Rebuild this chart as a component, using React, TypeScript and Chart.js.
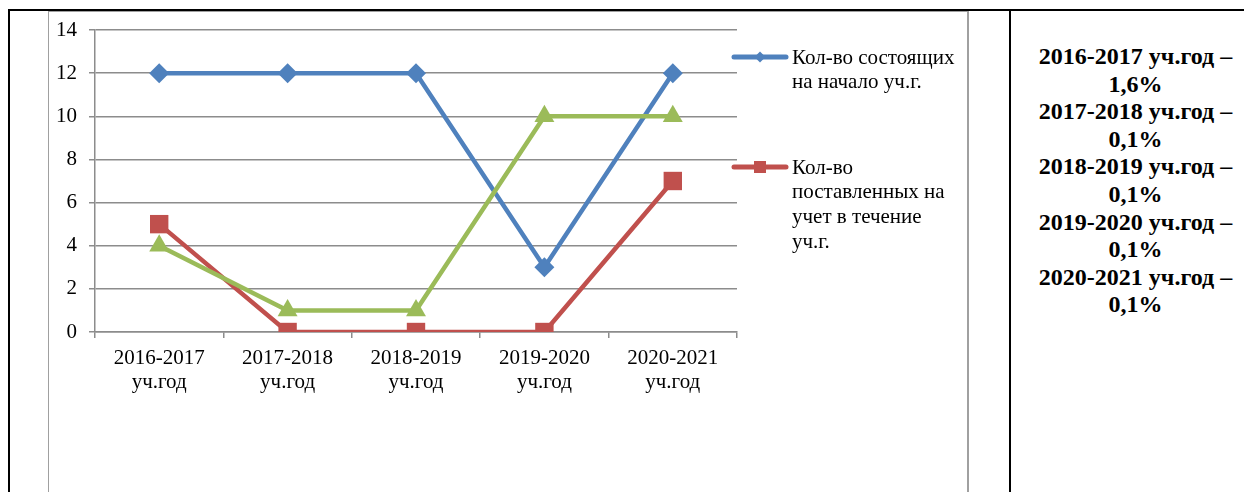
import React, { useEffect, useRef } from 'react';
import { Chart, registerables } from 'chart.js';

Chart.register(...registerables);

const categories: string[][] = [
  ['2016-2017', 'уч.год'],
  ['2017-2018', 'уч.год'],
  ['2018-2019', 'уч.год'],
  ['2019-2020', 'уч.год'],
  ['2020-2021', 'уч.год'],
];
const enrolledAtStart = [12, 12, 12, 3, 12];
const registeredDuring = [5, 0, 0, 0, 7];
const thirdSeries = [4, 1, 1, 10, 10];
const yMin = 0;
const yMax = 14;
const yStep = 2;
const legendTexts: string[][] = [
  ['Кол-во состоящих', 'на начало уч.г.'],
  ['Кол-во', 'поставленных на', 'учет в течение', 'уч.г.'],
];
const notes: string[][] = [
  ['2016-2017 уч.год –', '1,6%'],
  ['2017-2018 уч.год –', '0,1%'],
  ['2018-2019 уч.год –', '0,1%'],
  ['2019-2020 уч.год –', '0,1%'],
  ['2020-2021 уч.год –', '0,1%'],
];

const BLUE = '#4F81BD';
const RED = '#C0504D';
const GREEN = '#9BBB59';
const GRID = '#8c8c8c';
const FONT = "'Liberation Serif', 'Times New Roman', serif";

const CANVAS_LEFT = 49;
const CANVAS_TOP = 10;
const CANVAS_W = 919;
const CANVAS_H = 482;

const legendPlugin = {
  id: 'wordLegend',
  afterDraw(chart: any) {
    const ctx: CanvasRenderingContext2D = chart.ctx;
    const items = [
      { color: BLUE, y: 47, shape: 'diamond', lines: legendTexts[0] },
      { color: RED, y: 157, shape: 'square', lines: legendTexts[1] },
    ];
    ctx.save();
    items.forEach((it) => {
      ctx.strokeStyle = it.color;
      ctx.fillStyle = it.color;
      ctx.lineWidth = 5;
      ctx.lineCap = 'round';
      ctx.beginPath();
      ctx.moveTo(685, it.y);
      ctx.lineTo(737, it.y);
      ctx.stroke();
      const cx = 711;
      ctx.beginPath();
      if (it.shape === 'diamond') {
        const r = 5.5;
        ctx.moveTo(cx - r, it.y);
        ctx.lineTo(cx, it.y - r);
        ctx.lineTo(cx + r, it.y);
        ctx.lineTo(cx, it.y + r);
        ctx.closePath();
      } else {
        ctx.rect(cx - 6, it.y - 6, 12, 12);
      }
      ctx.fill();
      ctx.fillStyle = '#000';
      ctx.font = `21px ${FONT}`;
      ctx.textBaseline = 'middle';
      ctx.textAlign = 'left';
      it.lines.forEach((t, i) => {
        ctx.fillText(t, 743, it.y + 1 + i * 24.7);
      });
    });
    ctx.restore();
  },
};

export default function App() {
  const ref = useRef<HTMLCanvasElement | null>(null);

  useEffect(() => {
    if (!ref.current) return;
    const chart = new Chart(ref.current, {
      type: 'line',
      data: {
        labels: categories,
        datasets: [
          {
            label: legendTexts[0].join(' '),
            data: enrolledAtStart,
            borderColor: BLUE,
            backgroundColor: BLUE,
            borderWidth: 4.5,
            pointStyle: 'rectRot',
            pointRadius: 10,
            pointBorderWidth: 0,
            pointBackgroundColor: BLUE,
            tension: 0,
            order: 2,
          },
          {
            label: legendTexts[1].join(' '),
            data: registeredDuring,
            borderColor: RED,
            backgroundColor: RED,
            borderWidth: 4.5,
            pointStyle: 'rect',
            pointRadius: 13,
            pointBorderWidth: 0,
            pointBackgroundColor: RED,
            tension: 0,
            order: 1,
          },
          {
            label: 'series3',
            data: thirdSeries,
            borderColor: GREEN,
            backgroundColor: GREEN,
            borderWidth: 4.5,
            pointStyle: 'triangle',
            pointRadius: 11.5,
            pointBorderWidth: 0,
            pointBackgroundColor: GREEN,
            tension: 0,
            order: 0,
          },
        ],
      },
      options: {
        animation: false,
        responsive: false,
        maintainAspectRatio: false,
        devicePixelRatio: 1,
        layout: { padding: { left: 0, top: 20, right: 231, bottom: 0 } },
        plugins: {
          legend: { display: false },
          tooltip: { enabled: false },
        },
        scales: {
          x: {
            type: 'category',
            offset: true,
            grid: {
              offset: true,
              drawOnChartArea: false,
              drawTicks: true,
              tickLength: 6,
              color: GRID,
              lineWidth: 1.5,
            },
            border: { display: true, color: GRID, width: 1.5 },
            ticks: {
              color: '#000',
              font: { family: FONT, size: 21, lineHeight: 1.17 },
              padding: 8,
              maxRotation: 0,
              autoSkip: false,
            },
            afterFit: (scale: any) => {
              scale.height = 160;
              scale.paddingLeft = 0;
              scale.paddingRight = 0;
            },
          },
          y: {
            min: yMin,
            max: yMax,
            grid: {
              drawTicks: true,
              tickLength: 6,
              color: GRID,
              lineWidth: 1.5,
            },
            border: { display: true, color: GRID, width: 1.5 },
            ticks: {
              stepSize: yStep,
              color: '#000',
              font: { family: FONT, size: 21 },
              padding: 12,
            },
            afterFit: (scale: any) => {
              scale.width = 46;
              scale.paddingTop = 0;
              scale.paddingBottom = 0;
            },
          },
        },
      },
      plugins: [legendPlugin],
    } as any);
    return () => chart.destroy();
  }, []);

  return (
    <div
      style={{
        position: 'fixed',
        left: 0,
        top: 0,
        width: 1244,
        height: 492,
        overflow: 'hidden',
        background: '#fff',
      }}
    >
      <div style={{ position: 'absolute', left: 8, top: 9, width: 1236, height: 2, background: '#000' }} />
      <div style={{ position: 'absolute', left: 8, top: 9, width: 2, height: 483, background: '#000' }} />
      <div style={{ position: 'absolute', left: 1009, top: 9, width: 2, height: 483, background: '#000' }} />
      <div
        style={{
          position: 'absolute',
          left: 48,
          top: 10.5,
          width: 918,
          height: 500,
          borderLeft: '1.5px solid #a0a0a0',
          borderTop: '1.5px solid #a0a0a0',
          borderRight: '2px solid #a0a0a0',
        }}
      />
      <canvas
        ref={ref}
        width={CANVAS_W}
        height={CANVAS_H}
        style={{ position: 'absolute', left: CANVAS_LEFT, top: CANVAS_TOP, width: CANVAS_W, height: CANVAS_H }}
      />
      <div
        style={{
          position: 'absolute',
          left: 1020,
          top: 43,
          width: 231,
          textAlign: 'center',
          fontFamily: FONT,
          fontWeight: 'bold',
          fontSize: 24,
          lineHeight: '27.6px',
          whiteSpace: 'nowrap',
          color: '#000',
        }}
      >
        {notes.map((n, i) => (
          <React.Fragment key={i}>
            {n.map((line, j) => (
              <div key={j}>{line}</div>
            ))}
          </React.Fragment>
        ))}
      </div>
    </div>
  );
}
